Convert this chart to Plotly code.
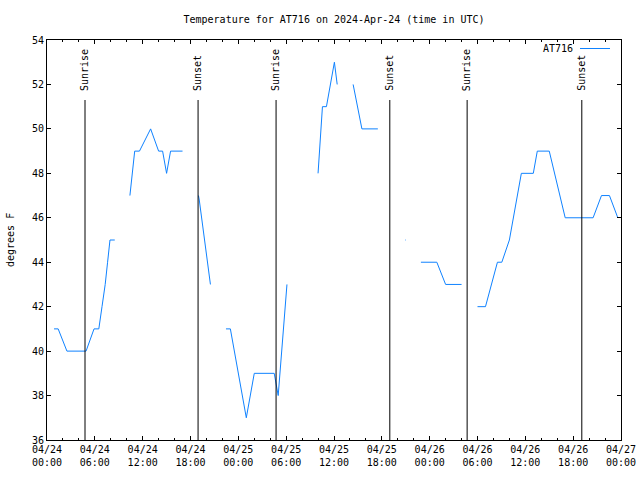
import plotly.graph_objects as go
from datetime import datetime, timedelta

BASE = datetime(2024, 4, 24, 0, 0)

# hours since 2024-04-24 00:00 UTC; None breaks the line
hours = [0.88, 1.40, 2.50, 4.90, 5.90, 6.50, 6.90, 7.30, 7.60, 7.90, 8.50, None,
         10.40, 10.70, 11.00, 11.60, 13.00, 14.00, 14.50, 15.00, 15.50, 17.00, None,
         19.00, 19.10, 20.50, None,
         22.45, 23.00, 25.00, 26.00, 28.50, 28.75, 29.00, 30.10, None,
         34.00, 34.55, 35.05, 36.05, 36.40, None,
         38.40, 39.50, 41.50, None,
         44.95, 45.02, None,
         46.90, 48.90, 50.00, 52.00, None,
         54.00, 55.00, 56.50, 57.05, 58.00, 59.50, 61.00, 61.50, 63.00, 65.00,
         68.50, 69.55, 70.55, 71.60]
temps = [41, 41, 40, 40, 41, 41, 42, 43, 44, 45, 45, None,
         47, 48, 49, 49, 50, 49, 49, 48, 49, 49, None,
         47, 46.8, 43, None,
         41, 41, 37, 39, 39, 38.5, 38, 43, None,
         48, 51, 51, 53, 52, None,
         52, 50, 50, None,
         45, 45, None,
         44, 44, 43, 43, None,
         42, 42, 44, 44, 45, 48, 48, 49, 49, 46,
         46, 47, 47, 46]

sun_labels = ["Sunrise", "Sunset", "Sunrise", "Sunset", "Sunrise", "Sunset"]
sun_times = ["2024-04-24 04:46", "2024-04-24 18:57", "2024-04-25 04:44",
             "2024-04-25 19:00", "2024-04-26 04:42", "2024-04-26 19:05"]

tick_vals = ["2024-04-24 00:00", "2024-04-24 06:00", "2024-04-24 12:00", "2024-04-24 18:00",
             "2024-04-25 00:00", "2024-04-25 06:00", "2024-04-25 12:00", "2024-04-25 18:00",
             "2024-04-26 00:00", "2024-04-26 06:00", "2024-04-26 12:00", "2024-04-26 18:00",
             "2024-04-27 00:00"]
tick_text = ["04/24<br>00:00", "04/24<br>06:00", "04/24<br>12:00", "04/24<br>18:00",
             "04/25<br>00:00", "04/25<br>06:00", "04/25<br>12:00", "04/25<br>18:00",
             "04/26<br>00:00", "04/26<br>06:00", "04/26<br>12:00", "04/26<br>18:00",
             "04/27<br>00:00"]
y_ticks = [36, 38, 40, 42, 44, 46, 48, 50, 52, 54]

times = [None if h is None else (BASE + timedelta(hours=h)).strftime("%Y-%m-%d %H:%M:%S")
         for h in hours]

FONT = "DejaVu Sans Mono"
BLUE = "#0f82ff"
L, R, T, B = 47, 19, 40, 40
PW, PH = 640 - L - R, 480 - T - B

fig = go.Figure()
fig.add_trace(go.Scatter(x=times, y=temps, mode="lines", name="AT716",
                         line=dict(color=BLUE, width=1), connectgaps=False,
                         showlegend=False))

shapes = []
annotations = []
for lab, t in zip(sun_labels, sun_times):
    shapes.append(dict(type="line", xref="x", yref="paper", x0=t, x1=t, y0=0,
                       y1=(480 - B - 100) / PH, line=dict(color="black", width=1)))
    annotations.append(dict(x=t, y=(480 - B - 93) / PH, xref="x", yref="paper", text=lab,
                            textangle=-90, showarrow=False, xanchor="center",
                            yanchor="bottom", font=dict(family=FONT, size=10, color="black")))

# legend entry drawn gnuplot style
leg_y = (480 - B - 48.5) / PH
annotations.append(dict(x=(575 - L) / PW, y=leg_y, xref="paper", yref="paper", text="AT716",
                        showarrow=False, xanchor="right", yanchor="middle",
                        font=dict(family=FONT, size=10, color="black")))
shapes.append(dict(type="line", xref="paper", yref="paper",
                   x0=(580 - L) / PW, x1=(610 - L) / PW, y0=leg_y, y1=leg_y,
                   line=dict(color=BLUE, width=1)))
# y axis title
annotations.append(dict(x=(10 - L) / PW, y=0.5, xref="paper", yref="paper", text="degrees F",
                        textangle=-90, showarrow=False, xanchor="center", yanchor="middle",
                        font=dict(family=FONT, size=10, color="black")))

fig.update_layout(
    width=640, height=480,
    margin=dict(l=L, r=R, t=T, b=B, autoexpand=False),
    paper_bgcolor="white", plot_bgcolor="white",
    font=dict(family=FONT, size=10, color="black"),
    title=dict(text="Temperature for AT716 on 2024-Apr-24 (time in UTC)",
               xref="paper", x=0.5, xanchor="center",
               yref="container", y=1 - 19 / 480, yanchor="middle",
               font=dict(family=FONT, size=10, color="black")),
    shapes=shapes, annotations=annotations,
    showlegend=False,
)
fig.update_xaxes(type="date", range=["2024-04-24 00:00", "2024-04-27 00:00"],
                 tickvals=tick_vals, ticktext=tick_text, automargin=False,
                 ticks="inside", ticklen=4, tickcolor="black",
                 minor=dict(dtick=7200000, ticks="inside", ticklen=2, tickcolor="black",
                            showgrid=False),
                 showline=True, linecolor="black", linewidth=1, mirror="ticks",
                 showgrid=False, zeroline=False,
                 tickfont=dict(family=FONT, size=10, color="black"))
fig.update_yaxes(range=[36, 54], tickvals=y_ticks, automargin=False,
                 ticks="inside", ticklen=4, tickcolor="black",
                 showline=True, linecolor="black", linewidth=1, mirror="ticks",
                 showgrid=False, zeroline=False,
                 tickfont=dict(family=FONT, size=10, color="black"))

fig.write_html("out.html", config={"displayModeBar": False},
               post_script="document.body.style.margin='0';")
